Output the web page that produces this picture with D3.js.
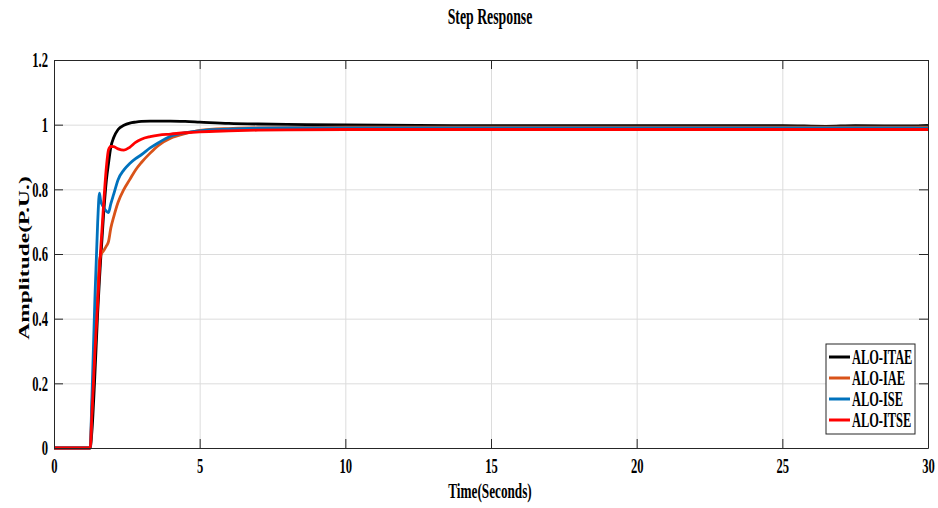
<!DOCTYPE html>
<html>
<head>
<meta charset="utf-8">
<script src="https://cdn.jsdelivr.net/npm/d3@7"></script>
<style>
  body { margin: 0; background: #fff; }
  text { font-family: "Liberation Serif", "Times New Roman", serif; font-weight: bold; fill: #000; }
</style>
</head>
<body>
<div id="chart"></div>
<script>
// sample times (s) shared by all four responses
const time = [0, 1.24, 1.3, 1.4, 1.5, 1.56, 1.6, 1.7, 1.8, 1.87, 1.95, 2.05, 2.2, 2.4, 2.6, 2.8, 3.0, 3.3, 3.6, 4.0, 4.5, 5.0, 6.0, 7.0, 8.0, 10, 15, 20, 25, 26.5, 27.5, 29.5, 30];

const itae = [0, 0, 0.05, 0.22, 0.42, 0.52, 0.58, 0.72, 0.83, 0.88, 0.93, 0.96, 0.985, 0.998, 1.005, 1.008, 1.01, 1.011, 1.011, 1.011, 1.01, 1.008, 1.004, 1.002, 1.001, 0.999, 0.997, 0.997, 0.997, 0.995, 0.997, 0.996, 0.998];
const iae  = [0, 0, 0.12, 0.32, 0.48, 0.58, 0.595, 0.61, 0.625, 0.638, 0.68, 0.715, 0.76, 0.80, 0.83, 0.86, 0.883, 0.912, 0.937, 0.958, 0.972, 0.982, 0.988, 0.99, 0.991, 0.992, 0.992, 0.992, 0.992, 0.992, 0.992, 0.992, 0.992];
const ise  = [0, 0, 0.15, 0.45, 0.70, 0.788, 0.765, 0.745, 0.732, 0.728, 0.755, 0.785, 0.83, 0.86, 0.88, 0.895, 0.907, 0.928, 0.945, 0.964, 0.975, 0.981, 0.986, 0.989, 0.99, 0.99, 0.99, 0.99, 0.99, 0.99, 0.99, 0.99, 0.989];
const itse = [0, 0, 0.10, 0.29, 0.45, 0.55, 0.61, 0.75, 0.87, 0.922, 0.933, 0.932, 0.925, 0.921, 0.93, 0.945, 0.955, 0.963, 0.968, 0.971, 0.975, 0.978, 0.981, 0.983, 0.984, 0.985, 0.985, 0.985, 0.985, 0.985, 0.985, 0.985, 0.985];

const seriesNames = ["ALO-ITAE", "ALO-IAE", "ALO-ISE", "ALO-ITSE"];
const seriesColors = ["#000000", "#D95319", "#0072BD", "#FF0000"];

const xTicks = [0, 5, 10, 15, 20, 25, 30];
const yTicks = [0, 0.2, 0.4, 0.6, 0.8, 1, 1.2];

const W = 938, H = 508;
const margin = { top: 60, right: 10, bottom: 60, left: 54 };
const width = W - margin.left - margin.right;   // 874
const height = H - margin.top - margin.bottom;  // 388
const sx = 0.6; // narrow, tall look of the lettering

const svg = d3.select("#chart").append("svg")
    .attr("width", W).attr("height", H);

const g = svg.append("g").attr("transform", `translate(${margin.left},${margin.top})`);

const x = d3.scaleLinear().domain([0, 30]).range([0, width]);
const y = d3.scaleLinear().domain([0, 1.2]).range([height, 0]);

// grid
g.append("g").attr("class", "grid")
    .attr("transform", `translate(0,${height})`)
    .call(d3.axisBottom(x).tickValues(xTicks).tickSize(-height).tickFormat(""))
    .call(a => a.select(".domain").remove());
g.append("g").attr("class", "grid")
    .call(d3.axisLeft(y).tickValues(yTicks).tickSize(-width).tickFormat(""))
    .call(a => a.select(".domain").remove());
g.selectAll(".grid line").attr("stroke", "#dcdcdc").attr("stroke-width", 1);

// lines
const line = d3.line().x((d, i) => x(time[i])).y(d => y(d)).curve(d3.curveMonotoneX);
[itae, iae, ise, itse].forEach((vals, k) => {
  g.append("path").datum(vals)
    .attr("fill", "none")
    .attr("stroke", seriesColors[k])
    .attr("stroke-width", 2.8)
    .attr("stroke-linejoin", "round")
    .attr("d", line);
});

// axes (box with inward ticks)
const xAxis = g.append("g").attr("transform", `translate(0,${height})`)
    .call(d3.axisBottom(x).tickValues(xTicks).tickSizeInner(-9).tickSizeOuter(0).tickPadding(10).tickFormat(d3.format("d")));
const yAxis = g.append("g")
    .call(d3.axisLeft(y).tickValues(yTicks).tickSizeInner(-9).tickSizeOuter(0).tickPadding(6).tickFormat(d => d === 0 ? "0" : d3.format("~g")(d)));
g.append("g")
    .call(d3.axisTop(x).tickValues(xTicks).tickSizeInner(-9).tickSizeOuter(0).tickFormat(""));
g.append("g").attr("transform", `translate(${width},0)`)
    .call(d3.axisRight(y).tickValues(yTicks).tickSizeInner(-9).tickSizeOuter(0).tickFormat(""));

g.selectAll(".domain").attr("stroke", "#262626");
g.selectAll(".tick line").filter(function() { return !this.closest(".grid"); }).attr("stroke", "#262626");

xAxis.selectAll("text")
    .style("font-size", "21px").style("font-family", "Liberation Serif").style("font-weight", "bold")
    .attr("transform", `scale(${sx},1)`);
yAxis.selectAll("text")
    .style("font-size", "21px").style("font-family", "Liberation Serif").style("font-weight", "bold")
    .attr("x", -6 / sx)
    .attr("transform", `scale(${sx},1)`);

// title and labels
svg.append("text")
    .attr("transform", `translate(490,24) scale(${sx},1)`)
    .attr("text-anchor", "middle")
    .style("font-size", "23px")
    .text("Step Response");

svg.append("text")
    .attr("transform", `translate(490,498) scale(0.63,1)`)
    .attr("text-anchor", "middle")
    .style("font-size", "21px")
    .text("Time(Seconds)");

svg.append("text")
    .attr("transform", `translate(29,258) rotate(-90) scale(1,${sx})`)
    .attr("text-anchor", "middle")
    .style("font-size", "23.5px")
    .text("Amplitude(P.U.)");

// legend
const lg = svg.append("g").attr("transform", "translate(826,344)");
lg.append("rect").attr("width", 89).attr("height", 90)
    .attr("fill", "#fff").attr("stroke", "#262626").attr("stroke-width", 1);
seriesNames.forEach((name, k) => {
  const yy = 13 + k * 21;
  lg.append("line").attr("x1", 3).attr("x2", 24).attr("y1", yy).attr("y2", yy)
    .attr("stroke", seriesColors[k]).attr("stroke-width", 3);
  lg.append("text")
    .attr("transform", `translate(26,${yy}) scale(0.62,1)`)
    .attr("dy", "0.35em")
    .style("font-size", "20px")
    .text(name);
});
</script>
</body>
</html>
